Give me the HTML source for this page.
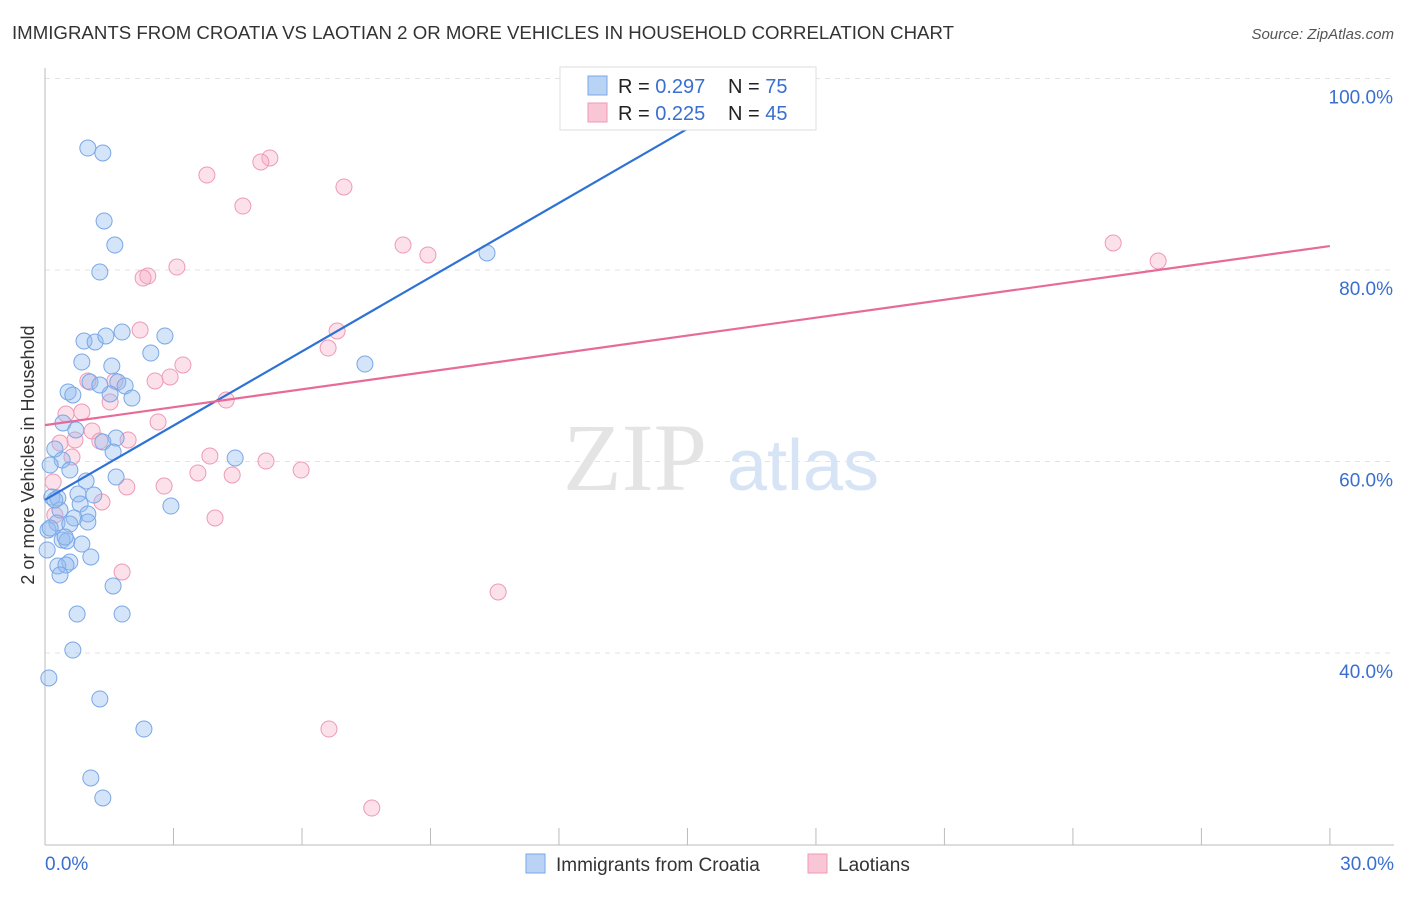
<!DOCTYPE html>
<html><head><meta charset="utf-8"><style>
body{margin:0;background:#fff;font-family:"Liberation Sans",sans-serif}
</style></head><body>
<svg id="chart" width="1406" height="892" xmlns="http://www.w3.org/2000/svg" font-family="Liberation Sans, sans-serif">
<text x="12" y="39" font-size="18" fill="#333" textLength="942" lengthAdjust="spacingAndGlyphs">IMMIGRANTS FROM CROATIA VS LAOTIAN 2 OR MORE VEHICLES IN HOUSEHOLD CORRELATION CHART</text>
<text x="1394" y="39" font-size="15" fill="#555" text-anchor="end" font-style="italic">Source: ZipAtlas.com</text>
<g>
<text x="635" y="490" font-size="96" fill="#e4e4e4" text-anchor="middle" font-family="Liberation Serif, serif">ZIP</text>
<text x="803" y="490" font-size="72" fill="#d6e4f5" text-anchor="middle">atlas</text>
</g>
<g id="grid"></g><g id="axes"></g><g id="marks"></g>
<text transform="translate(34,455) rotate(-90)" font-size="18" fill="#333" text-anchor="middle">2 or more Vehicles in Household</text>
<g>
<rect x="560" y="67" width="256" height="63" fill="#fff" stroke="#ddd"/>
<rect x="588" y="76" width="19" height="19" fill="#b9d3f5" stroke="#7aa7e6"/>
<rect x="588" y="103" width="19" height="19" fill="#f9c6d6" stroke="#ee9ab5"/>
<text x="618" y="93" font-size="20" fill="#222">R = <tspan fill="#3a6fd0">0.297</tspan></text>
<text x="728" y="93" font-size="20" fill="#222">N = <tspan fill="#3a6fd0">75</tspan></text>
<text x="618" y="120" font-size="20" fill="#222">R = <tspan fill="#3a6fd0">0.225</tspan></text>
<text x="728" y="120" font-size="20" fill="#222">N = <tspan fill="#3a6fd0">45</tspan></text>
</g>
<g>
<rect x="526" y="854" width="19" height="19" fill="#b9d3f5" stroke="#7aa7e6"/>
<text x="556" y="871" font-size="19" fill="#333">Immigrants from Croatia</text>
<rect x="808" y="854" width="19" height="19" fill="#f9c6d6" stroke="#ee9ab5"/>
<text x="838" y="871" font-size="19" fill="#333">Laotians</text>
</g>
</svg>
<script>
const yTicks=[40,60,80,100];
const yTickLabels=["40.0%","60.0%","80.0%","100.0%"];
const xTicks=[0,3,6,9,12,15,18,21,24,27,30];
const croatiaPx=[[88,148],[103,153],[104,221],[115,245],[100,272],[84,341],[95,342],[106,336],[122,332],[165,336],[151,353],[82,362],[112,366],[90,382],[118,382],[125,386],[68,392],[73,395],[110,394],[132,398],[63,423],[76,430],[116,438],[103,442],[113,452],[55,449],[62,460],[70,470],[50,465],[86,481],[116,477],[52,497],[58,498],[78,494],[94,495],[80,504],[60,510],[88,514],[74,518],[88,522],[57,523],[48,530],[70,524],[62,540],[67,541],[82,544],[91,557],[47,550],[70,562],[58,566],[66,565],[60,575],[113,586],[77,614],[122,614],[73,650],[49,678],[100,699],[144,729],[91,778],[103,798],[171,506],[235,458],[365,364],[487,253],[100,385],[55,500],[50,528],[65,537]];
const laotianPx=[[270,158],[261,162],[207,175],[344,187],[243,206],[403,245],[428,255],[177,267],[148,276],[143,278],[140,330],[337,331],[328,348],[183,365],[170,377],[155,381],[88,381],[115,381],[110,402],[226,400],[82,412],[66,414],[158,422],[92,431],[75,440],[60,443],[100,441],[128,440],[72,457],[266,461],[210,456],[301,470],[198,473],[232,475],[164,486],[127,487],[102,502],[53,482],[215,518],[55,515],[122,572],[498,592],[329,729],[372,808],[1113,243],[1158,261]];
const toVal=p=>[+((p[0]-45)/42.83).toFixed(2),+(40+(653-p[1])/9.575).toFixed(2)];
const croatiaX=croatiaPx.map(p=>toVal(p)[0]), croatiaY=croatiaPx.map(p=>toVal(p)[1]);
const laotianX=laotianPx.map(p=>toVal(p)[0]), laotianY=laotianPx.map(p=>toVal(p)[1]);
const blueLine=[[0,56.0],[15.06,94.9]];
const pinkLine=[[0,63.8],[30,82.5]];
const sx=v=>45+v*42.83, sy=v=>653-(v-40)*9.575;
const NS="http://www.w3.org/2000/svg";
function mk(tag,parent,attrs){const e=document.createElementNS(NS,tag);for(const k in attrs)e.setAttribute(k,attrs[k]);document.getElementById(parent).appendChild(e);return e;}
yTicks.forEach((t,i)=>{
 const g=mk('line','grid',{x1:45,x2:1394,y1:sy(t),y2:sy(t),stroke:'#e3e3e3','stroke-dasharray':'5,5'});
 
 
 const l=mk('text','axes',{x:1393,y:sy(t)+25,'font-size':19,fill:'#3a6fd0','text-anchor':'end'});
 l.textContent=yTickLabels[i];
 
 
});
const ax=mk('line','axes',{x1:45,x2:1394,y1:845,y2:845,stroke:'#bbb'});


const ay=mk('line','axes',{x1:45,x2:45,y1:68,y2:845,stroke:'#bbb'});


xTicks.forEach(t=>{const e=mk('line','axes',{x1:sx(t),x2:sx(t),y1:828,y2:845,stroke:'#bbb'});
 
 });
const x0=mk('text','axes',{x:45,y:870,'font-size':19,fill:'#3a6fd0'});x0.textContent='0.0%';


const x1=mk('text','axes',{x:1394,y:870,'font-size':19,fill:'#3a6fd0','text-anchor':'end'});x1.textContent='30.0%';


laotianX.forEach((x,i)=>{const c=mk('circle','marks',{cx:sx(x),cy:sy(laotianY[i]),r:8,fill:'rgba(245,170,195,0.35)',stroke:'#ee9ab5','stroke-width':1});
 
 });
croatiaX.forEach((x,i)=>{const c=mk('circle','marks',{cx:sx(x),cy:sy(croatiaY[i]),r:8,fill:'rgba(147,187,240,0.4)',stroke:'#7aa7e6','stroke-width':1});
 
 });
const bl=mk('line','marks',{x1:sx(blueLine[0][0]),y1:sy(blueLine[0][1]),x2:sx(blueLine[1][0]),y2:sy(blueLine[1][1]),stroke:'#2f72d6','stroke-width':2.2});


const pl=mk('line','marks',{x1:sx(pinkLine[0][0]),y1:sy(pinkLine[0][1]),x2:sx(pinkLine[1][0]),y2:sy(pinkLine[1][1]),stroke:'#e86a98','stroke-width':2.2});


</script>
</body></html>
